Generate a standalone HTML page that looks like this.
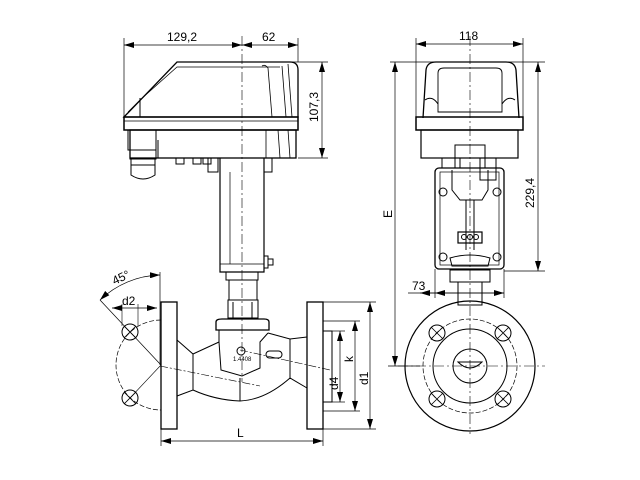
<!DOCTYPE html>
<html><head><meta charset="utf-8"><style>
html,body{margin:0;padding:0;background:#fff;}
svg{display:block;}
text{font-family:"Liberation Sans",sans-serif;font-size:12px;fill:#000;}
</style></head><body>
<svg width="640" height="480" viewBox="0 0 640 480" xmlns="http://www.w3.org/2000/svg">
<defs>
<marker id="a" viewBox="0 0 10 6" refX="10" refY="3" markerWidth="10" markerHeight="6" orient="auto-start-reverse" markerUnits="userSpaceOnUse"><path d="M0,0L10,3L0,6z" fill="#000"/></marker>
</defs>
<g fill="none" stroke="#000" stroke-width="1">
<line x1="124" y1="38" x2="124" y2="118" stroke-width="0.7"/>
<line x1="298" y1="38" x2="298" y2="62" stroke-width="0.7"/>
<line x1="124" y1="45" x2="242" y2="45" marker-start="url(#a)" marker-end="url(#a)" stroke-width="0.7"/>
<line x1="242" y1="45" x2="298" y2="45" marker-start="url(#a)" marker-end="url(#a)" stroke-width="0.7"/>
<line x1="290" y1="62" x2="328" y2="62" stroke-width="0.7"/>
<line x1="298" y1="158" x2="328" y2="158" stroke-width="0.7"/>
<line x1="322" y1="62" x2="322" y2="158" marker-start="url(#a)" marker-end="url(#a)" stroke-width="0.7"/>
<path d="M124,117 L177,62 L290,62 Q298,62 298,70 L298,117 Z" stroke-width="1.3"/>
<path d="M128,112 L140,100 L177,67 L280,67" stroke-width="0.7"/>
<line x1="140" y1="98" x2="140" y2="117"/>
<path d="M262,66 Q265,64 268,68 L272,117 M282,66 L286,117 M288,64 L292,117" stroke-width="0.8"/>
<rect x="124" y="117" width="174" height="13" stroke-width="1.5"/>
<line x1="124" y1="121" x2="298" y2="121" stroke-width="0.7"/>
<rect x="130" y="130" width="166" height="28" stroke-width="1.3"/>
<path d="M266,130 L266,158 M278,130 L280,158 M288,130 L290,158" stroke-width="0.8"/>
<path d="M128,130 L128,150 L156,150 L156,130 M158,140 L158,158" stroke-width="1"/>
<rect x="130" y="150" width="26" height="9"/>
<path d="M131,159 L131,175 Q143,183 155,175 L155,159"/>
<line x1="131" y1="165" x2="155" y2="165"/>
<rect x="176" y="158" width="8" height="6"/><rect x="193" y="158" width="8" height="6"/><rect x="203" y="158" width="8" height="6"/>
<path d="M208,158 L208,172 L218,172 L218,158"/>
<path d="M264,158 L264,172 L272,172 L272,158"/>
<path d="M220,158 L220,272 L264,272 L264,158" stroke-width="1.2"/>
<line x1="230" y1="172" x2="230" y2="264" stroke-width="0.7"/>
<line x1="220" y1="264" x2="264" y2="264" stroke-width="0.8"/>
<rect x="264" y="256" width="4" height="12"/><rect x="268" y="259" width="5" height="6"/>
<rect x="226" y="272" width="32" height="8"/>
<rect x="229" y="280" width="28" height="20"/>
<path d="M228,300 L228,318 L258,318 L258,300 Z"/>
<line x1="233" y1="302" x2="233" y2="318"/><line x1="252" y1="302" x2="252" y2="318"/>
<path d="M216,330 L216,322 Q216,319 222,319 L264,319 Q269,319 269,322 L269,330 Z" stroke-width="1.3"/>
<path d="M219,330 L219,342 L221,370 L242,376 L260,368 L260,342 L268,333" stroke-width="1"/>
<path d="M177,340 L193,354 L219,342" />
<path d="M193,354 L193,390"/>
<path d="M177,396 L193,390 Q215,400 240,401 Q265,400 290,378 L307,388"/>
<path d="M268,333 L290,339 L307,337"/>
<line x1="290" y1="339" x2="290" y2="378"/>
<line x1="240" y1="378" x2="240" y2="401"/>
<circle cx="241" cy="351" r="4"/>
<rect x="266" y="351" width="16" height="7" rx="3.5"/>
<line x1="160" y1="366" x2="260" y2="386" stroke-width="0.6" stroke-dasharray="8,2,2,2"/>
<line x1="240" y1="350" x2="330" y2="370" stroke-width="0.6" stroke-dasharray="8,2,2,2"/>
<rect x="161" y="302" width="16" height="127" stroke-width="1.3"/>
<rect x="307" y="302" width="16" height="127" stroke-width="1.3"/>
<rect x="323" y="331" width="9" height="71"/>
<line x1="242" y1="36" x2="242" y2="382" stroke-width="0.6" stroke-dasharray="10,3,2,3"/>
<line x1="307" y1="302" x2="376" y2="302" stroke-width="0.7"/>
<line x1="307" y1="429" x2="376" y2="429" stroke-width="0.7"/>
<line x1="323" y1="321" x2="360" y2="321" stroke-width="0.7"/>
<line x1="323" y1="411" x2="360" y2="411" stroke-width="0.7"/>
<line x1="332" y1="331" x2="345" y2="331" stroke-width="0.7"/>
<line x1="332" y1="402" x2="345" y2="402" stroke-width="0.7"/>
<line x1="340" y1="331" x2="340" y2="402" marker-start="url(#a)" marker-end="url(#a)" stroke-width="0.7"/>
<line x1="355" y1="321" x2="355" y2="411" marker-start="url(#a)" marker-end="url(#a)" stroke-width="0.7"/>
<line x1="370" y1="302" x2="370" y2="429" marker-start="url(#a)" marker-end="url(#a)" stroke-width="0.7"/>
<line x1="161" y1="429" x2="161" y2="446" stroke-width="0.7"/>
<line x1="323" y1="429" x2="323" y2="446" stroke-width="0.7"/>
<line x1="161" y1="441" x2="323" y2="441" marker-start="url(#a)" marker-end="url(#a)" stroke-width="0.7"/>
<path d="M161,320 A45,45 0 0 0 161,410" stroke-width="0.7" stroke-dasharray="5,2"/>
<circle cx="130" cy="332" r="8"/><path d="M124,326L136,338M136,326L124,338" stroke-width="0.8"/>
<circle cx="130" cy="398" r="8"/><path d="M124,392L136,404M136,392L124,404" stroke-width="0.8"/>
<line x1="100" y1="300" x2="161" y2="365" stroke-width="0.7"/>
<line x1="161" y1="365" x2="130" y2="398" stroke-width="0.6"/>
<line x1="160" y1="272" x2="160" y2="365" stroke-width="0.7"/>
<path d="M100,300 A90,90 0 0 1 160,275" marker-start="url(#a)" marker-end="url(#a)" stroke-width="0.7"/>
<line x1="112" y1="308" x2="157" y2="308" marker-start="url(#a)" marker-end="url(#a)" stroke-width="0.7"/>
<line x1="122" y1="304" x2="122" y2="326" stroke-width="0.6"/>
<line x1="138" y1="304" x2="138" y2="326" stroke-width="0.6"/>
<line x1="416" y1="38" x2="416" y2="120" stroke-width="0.7"/>
<line x1="523" y1="38" x2="523" y2="120" stroke-width="0.7"/>
<line x1="416" y1="44" x2="523" y2="44" marker-start="url(#a)" marker-end="url(#a)" stroke-width="0.7"/>
<line x1="390" y1="62" x2="545" y2="62" stroke-width="0.7"/>
<line x1="504" y1="271" x2="545" y2="271" stroke-width="0.7"/>
<line x1="538" y1="62" x2="538" y2="271" marker-start="url(#a)" marker-end="url(#a)" stroke-width="0.7"/>
<line x1="388" y1="366" x2="420" y2="366" stroke-width="0.7"/>
<line x1="395" y1="62" x2="395" y2="366" marker-start="url(#a)" marker-end="url(#a)" stroke-width="0.7"/>
<path d="M423,118 L426,70 Q427,62 436,62 L506,62 Q515,62 516,70 L519,118" stroke-width="1.3"/>
<path d="M438,112 L438,73 Q438,68 444,68 L496,68 Q502,68 502,73 L502,112 Z" stroke-width="0.9"/>
<path d="M425,100 Q432,95 438,104 M515,100 Q508,95 502,104" />
<rect x="416" y="117" width="107" height="13" stroke-width="1.5"/>
<rect x="421" y="130" width="97" height="28" stroke-width="1.2"/>
<rect x="442" y="158" width="18" height="10"/><rect x="480" y="158" width="16" height="22"/>
<rect x="455" y="145" width="30" height="23"/>
<rect x="435" y="168" width="69" height="101" rx="4" stroke-width="1.3"/>
<rect x="440" y="172" width="59" height="93" stroke-width="0.7"/>
<path d="M452,170 L452,190 L460,200 L482,200 L488,190 L488,170" />
<line x1="466" y1="200" x2="466" y2="250"/><line x1="474" y1="200" x2="474" y2="250"/>
<rect x="458" y="232" width="24" height="11" stroke-width="1.2"/>
<circle cx="464" cy="237" r="2.5"/><circle cx="470" cy="237" r="2.5"/><circle cx="476" cy="237" r="2.5"/>
<circle cx="443" cy="192" r="4"/><circle cx="497" cy="192" r="4"/>
<circle cx="443" cy="257" r="4"/><circle cx="497" cy="257" r="4"/>
<path d="M450,258 Q470,252 490,258 L488,266 L452,266 Z"/>
<rect x="450" y="270" width="40" height="12"/>
<rect x="458" y="282" width="24" height="23"/>
<line x1="435" y1="269" x2="435" y2="298" stroke-width="0.7"/>
<line x1="504" y1="269" x2="504" y2="298" stroke-width="0.7"/>
<line x1="408" y1="293" x2="504" y2="293" stroke-width="0.7"/>
<line x1="435" y1="293" x2="420" y2="293" marker-end="url(#a)" stroke-width="0.7"/>
<line x1="435" y1="293" x2="504" y2="293" marker-start="url(#a)" marker-end="url(#a)" stroke-width="0.7"/>
<circle cx="470" cy="366" r="65" stroke-width="1.2"/>
<circle cx="470" cy="366" r="47" stroke-width="0.7" stroke-dasharray="5,2"/>
<circle cx="470" cy="366" r="37" stroke-width="1"/>
<circle cx="470" cy="366" r="17"/>
<path d="M458,362 Q470,374 482,362 Z" stroke-width="1"/>
<circle cx="437" cy="333" r="8"/><path d="M431,327L443,339M443,327L431,339" stroke-width="0.8"/>
<circle cx="503" cy="333" r="8"/><path d="M497,327L509,339M509,327L497,339" stroke-width="0.8"/>
<circle cx="437" cy="399" r="8"/><path d="M431,393L443,405M443,393L431,405" stroke-width="0.8"/>
<circle cx="503" cy="399" r="8"/><path d="M497,393L509,405M509,393L497,405" stroke-width="0.8"/>
<line x1="470" y1="36" x2="470" y2="434" stroke-width="0.6" stroke-dasharray="10,3,2,3"/>
<line x1="398" y1="366" x2="545" y2="366" stroke-width="0.6" stroke-dasharray="10,3,2,3"/>
</g>
<text x="167" y="41">129,2</text>
<text x="262" y="41">62</text>
<text x="0" y="0" transform="translate(318,122) rotate(-90)">107,3</text>
<text x="112" y="282" transform="rotate(-25,120,278)">45°</text>
<text x="122" y="305">d2</text>
<text x="0" y="0" transform="translate(353,362) rotate(-90)">k</text>
<text x="0" y="0" transform="translate(338,390) rotate(-90)">d4</text>
<text x="0" y="0" transform="translate(368,385) rotate(-90)">d1</text>
<text x="237" y="437">L</text>
<text x="459" y="40">118</text>
<text x="0" y="0" transform="translate(534,208) rotate(-90)">229,4</text>
<text x="0" y="0" transform="translate(392,218) rotate(-90)">E</text>
<text x="412" y="290">73</text>
<text x="233" y="361" style="font-size:6px">1.4408</text>
</svg>
</body></html>
